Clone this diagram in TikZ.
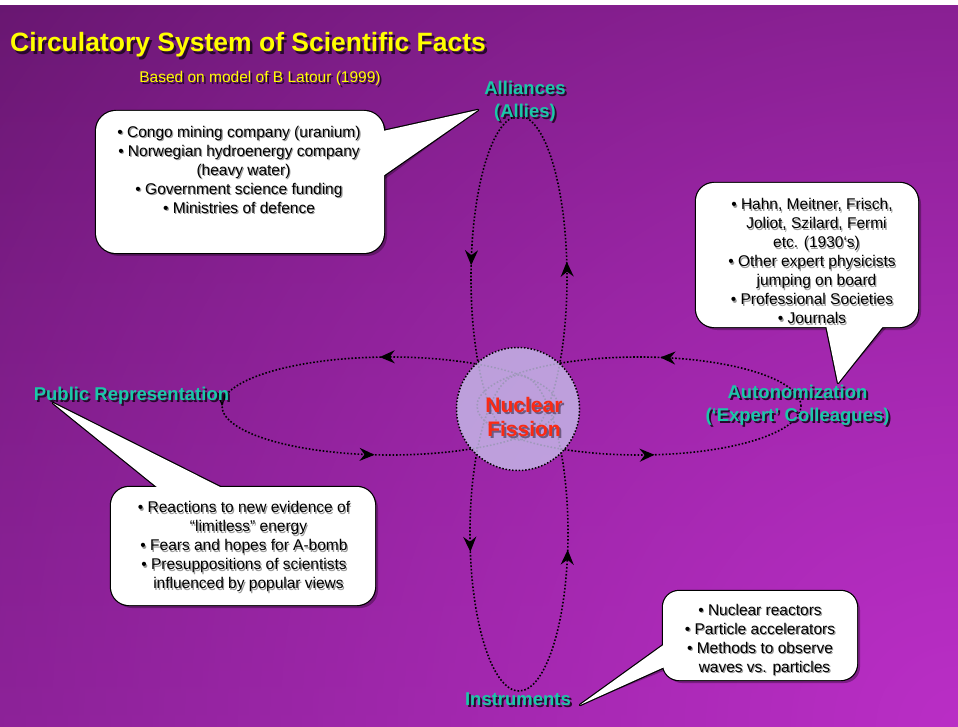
\documentclass[tikz,border=0pt]{standalone}
\usepackage{fontspec}
\setmainfont{Liberation Sans}
\usetikzlibrary{arrows.meta,decorations.markings,fadings}

\definecolor{bgtop}{RGB}{94,20,102}
\definecolor{bgbot}{RGB}{122,29,134}
\definecolor{bgglow}{RGB}{186,46,198}
\definecolor{titleyellow}{RGB}{255,255,0}
\definecolor{labelteal}{RGB}{26,200,168}
\definecolor{fissionred}{RGB}{250,42,20}
\definecolor{corefill}{RGB}{199,190,234}
\definecolor{textshade}{RGB}{40,8,44}
\definecolor{coreshade}{RGB}{110,90,130}

\tikzfading[name=cornerglow, inner color=transparent!0, outer color=transparent!100]

\tikzset{
  flowhead/.tip={Stealth[length=15pt,width=13pt,inset=5pt]},
  orbit/.style={draw=black, line width=1.6pt, dash pattern=on 1.6pt off 1.9pt,
    postaction=decorate},
  core/.style={circle, minimum size=123pt, inner sep=0pt, fill=corefill,
    fill opacity=.8, draw=black, line width=1.5pt, dash pattern=on 1.5pt off 1.8pt},
  titletext/.style={anchor=base west, inner sep=0pt, text=titleyellow,
    font=\fontsize{26.5}{30}\selectfont\bfseries},
  subtitletext/.style={anchor=base, inner sep=0pt, text=titleyellow,
    font=\fontsize{15.5}{18}\selectfont},
  label/.style={align=center, inner sep=0pt, text=labelteal,
    font=\fontsize{18.5}{23}\selectfont\bfseries},
  corelabel/.style={align=center, inner sep=0pt, text=fissionred,
    font=\fontsize{21}{24}\selectfont\bfseries},
  note/.style={align=center, inner sep=0pt, text=black,
    font=\fontsize{15.5}{19}\selectfont},
  darkshade/.style={text=textshade, xshift=2pt, yshift=-2pt},
  bigshade/.style={text=textshade, xshift=2.5pt, yshift=-2.5pt},
  coreshadow/.style={text=coreshade, xshift=2pt, yshift=-2pt},
  noteshade/.style={text=black!40, xshift=1.2pt, yshift=-1.2pt},
}

% text with a drop shadow: name, position, style, shadow style, text
\newcommand\shadetext[5]{%
  \node[#3,#4] (#1-shade) at #2 {#5};
  \node[#3] (#1) at #2 {#5};}

% speech bubble: corner, opposite corner, corner radius, pointer triangle
\newcommand\bubble[4]{%
  \fill[black, opacity=.3, shift={(3,3)}, rounded corners=#3] #1 rectangle #2;
  \fill[black, opacity=.3, shift={(3,3)}] #4 -- cycle;
  \draw[line width=2.4pt, fill=white, rounded corners=#3] #1 rectangle #2;
  \draw[line width=2.4pt, fill=white, line join=round] #4 -- cycle;
  \fill[white, rounded corners=#3] #1 rectangle #2;
  \fill[white] #4 -- cycle;}

\begin{document}
\begin{tikzpicture}[x=1pt,y=-1pt]
\useasboundingbox (0,0) rectangle (958,727);

% backdrop
\shade[top color=bgtop, bottom color=bgbot] (0,0) rectangle (958,727);
\begin{scope}
  \clip (0,0) rectangle (958,727);
  \fill[bgglow, path fading=cornerglow] (958,727) circle[radius=1350];
\end{scope}
\fill[white] (0,0) rectangle (958,5);

% the four circulation loops
\draw[orbit, decoration={markings,
    mark=at position 0.232 with {\arrow{flowhead}},
    mark=at position 0.773 with {\arrow{flowhead}}}]
  (519,116) arc[start angle=270, end angle=-90, x radius=48, y radius=162];
\draw[orbit, decoration={markings,
    mark=at position 0.277 with {\arrow{flowhead}},
    mark=at position 0.726 with {\arrow{flowhead}}}]
  (519,375) arc[start angle=270, end angle=-90, x radius=49, y radius=158];
\draw[orbit, decoration={markings,
    mark=at position 0.264 with {\arrow{flowhead}},
    mark=at position 0.5 with {\arrow{flowhead}},
    mark=at position 0.729 with {\arrow{flowhead}}}]
  (558,406) arc[start angle=0, end angle=-360, x radius=168, y radius=49];
\draw[orbit, decoration={markings,
    mark=at position 0.22 with {\arrow{flowhead}},
    mark=at position 0.772 with {\arrow{flowhead}}}]
  (801,406) arc[start angle=0, end angle=-360, x radius=162, y radius=49];

% central topic
\node[core] (core) at (518,409) {};
\shadetext{fission}{(524,420)}{corelabel}{coreshadow}{\strut Nuclear\\\strut Fission}

% title
\shadetext{title}{(10,52)}{titletext}{bigshade}{Circulatory System of Scientific Facts}
\shadetext{subtitle}{(260,83)}{subtitletext}{darkshade}{Based on model of B Latour (1999)}

% call-out bubbles
\coordinate (tipA) at (478,110);
\coordinate (tipB) at (838,383);
\coordinate (tipC) at (53,403);
\coordinate (tipD) at (580,705);
\bubble{(96,111)}{(384,253)}{20pt}{(365,135) -- (tipA) -- (370,185)}
\bubble{(696,183)}{(918,327)}{18pt}{(824,315) -- (tipB) -- (892,315)}
\bubble{(111,487)}{(375,605)}{18pt}{(tipC) -- (173,500) -- (246,500)}
\bubble{(663,591)}{(857,680)}{16pt}{(tipD) -- (680,633) -- (680,660)}

% loop labels
\shadetext{allies}{(525,101)}{label}{darkshade}{\strut Alliances\\\strut (Allies)}
\shadetext{autonomy}{(797.5,405)}{label}{darkshade}{\strut Autonomization\\\strut (‘Expert’ Colleagues)}
\shadetext{public}{(131.5,400)}{label,anchor=base}{darkshade}{Public Representation}
\shadetext{instruments}{(518,705)}{label,anchor=base}{darkshade}{Instruments}

% bubble texts
\shadetext{alliesnote}{(239,172)}{note}{noteshade}{%
  \strut• Congo mining company (uranium)\\
  \strut• Norwegian hydroenergy company\\
  \strut\hspace*{9pt}(heavy water)\\
  \strut• Government science funding\\
  \strut• Ministries of defence}
\shadetext{autonomynote}{(812,263)}{note}{noteshade}{%
  \strut• Hahn, Meitner, Frisch,\\
  \strut\hspace*{9pt}Joliot, Szilard, Fermi\\
  \strut\hspace*{9pt}etc. (1930‘s)\\
  \strut• Other expert physicists\\
  \strut\hspace*{9pt}jumping on board\\
  \strut• Professional Societies\\
  \strut• Journals}
\shadetext{publicnote}{(244,547)}{note}{noteshade}{%
  \strut• Reactions to new evidence of\\
  \strut\hspace*{9pt}“limitless” energy\\
  \strut• Fears and hopes for A-bomb\\
  \strut• Presuppositions of scientists\\
  \strut\hspace*{9pt}influenced by popular views}
\shadetext{instrumentsnote}{(760,640)}{note}{noteshade}{%
  \strut• Nuclear reactors\\
  \strut• Particle accelerators\\
  \strut• Methods to observe\\
  \strut\hspace*{9pt}waves vs. particles}
\end{tikzpicture}
\end{document}
